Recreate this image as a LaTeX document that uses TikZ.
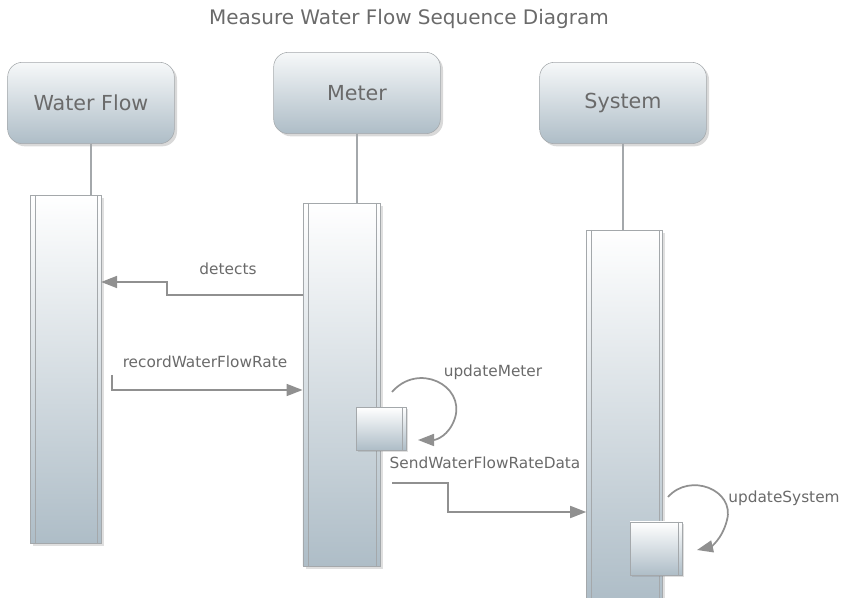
\documentclass[tikz,border=0pt]{standalone}
\usepackage{fontspec}
\setmainfont{DejaVu Sans}
\usetikzlibrary{arrows.meta,shadows}
\definecolor{textgray}{HTML}{6A6A6A}
\definecolor{boxline}{HTML}{A4A8AB}
\definecolor{boxtop}{HTML}{F6F8F9}
\definecolor{steel}{HTML}{AEBDC7}
\definecolor{wire}{HTML}{909090}
\begin{document}
\begin{tikzpicture}[x=.75pt,y=-.75pt,
  every node/.style={text=textgray},
  headbox/.style={draw=boxline, rounded corners=11pt, top color=boxtop, bottom color=steel,
    drop shadow={opacity=.3,shadow xshift=2pt,shadow yshift=-2pt},
    minimum width=125pt, minimum height=61pt, font=\fontsize{15.5}{18}\selectfont},
  actbar/.style={draw=boxline, top color=white, bottom color=steel, anchor=north,
    drop shadow={opacity=.25,shadow xshift=2pt,shadow yshift=-2pt}},
  selfbox/.style={draw=boxline, top color=white, bottom color=steel,
    drop shadow={opacity=.25,shadow xshift=1.5pt,shadow yshift=-1.5pt}},
  lifeline/.style={draw=boxline, line width=1.5pt},
  msg/.style={draw=wire, line width=1.3pt, -{Triangle[length=12pt,width=9pt]}},
  lbl/.style={font=\fontsize{11.5}{14}\selectfont}]
\useasboundingbox (0,0) rectangle (843,598);

\node[font=\fontsize{15}{18}\selectfont] (title) at (409,19) {Measure Water Flow Sequence Diagram};

% heads
\node[headbox] (flow) at (91,103) {Water Flow};
\node[headbox] (meter) at (357,93) {Meter};
\node[headbox] (system) at (623,103) {System};

% activation bars
\node[actbar, minimum width=53pt, minimum height=261pt] (flowbar) at (65.5,195) {};
\node[actbar, minimum width=58pt, minimum height=272pt] (meterbar) at (341.5,203) {};
\node[actbar, minimum width=57pt, minimum height=278pt] (sysbar) at (624.5,230) {};
\foreach \b in {flowbar,meterbar,sysbar} {
  \draw[boxline] ([xshift=4pt]\b.north west) -- ([xshift=4pt]\b.south west);
  \draw[boxline] ([xshift=-3pt]\b.north east) -- ([xshift=-3pt]\b.south east);
}

\draw[lifeline] (flow.south) -- (flow.south |- flowbar.north);
\draw[lifeline] (meter.south) -- (meter.south |- meterbar.north);
\draw[lifeline] (system.south) -- (system.south |- sysbar.north);

% self calls
\node[selfbox, minimum width=37.5pt, minimum height=32pt] (meterself) at (381,428.5) {};
\node[selfbox, minimum width=39pt, minimum height=40pt] (sysself) at (656,548.5) {};
\foreach \b in {meterself,sysself}
  \draw[boxline] ([xshift=-3pt]\b.north east) -- ([xshift=-3pt]\b.south east);

% messages
\draw[msg] (meterbar.west |- 0,295) -| (167,282) -- (flowbar.east |- 0,282);
\node[lbl] (detects) at (228,269) {detects};

\coordinate (recstart) at (112,375);
\draw[msg] (recstart) |- (meterbar.west |- 0,390);
\node[lbl] (record) at (205,362) {recordWaterFlowRate};

\coordinate (mloop) at (392,392);
\draw[msg] (mloop) .. controls (418,362) and (465,385) .. (455,418)
  .. controls (449,436) and (436,440) .. (418,440);
\node[lbl] (updmeter) at (493,372) {updateMeter};

\coordinate (sendstart) at (392,483);
\draw[msg] (sendstart) -| (448,512) -- (sysbar.west |- 0,512);
\node[lbl] (send) at (485,463) {SendWaterFlowRateData};

\coordinate (sloop) at (668,497);
\draw[msg] (sloop) .. controls (690,472) and (735,490) .. (727,520)
  .. controls (722,540) and (710,547) .. (697,550);
\node[lbl] (updsys) at (784,498) {updateSystem};
\end{tikzpicture}
\end{document}
